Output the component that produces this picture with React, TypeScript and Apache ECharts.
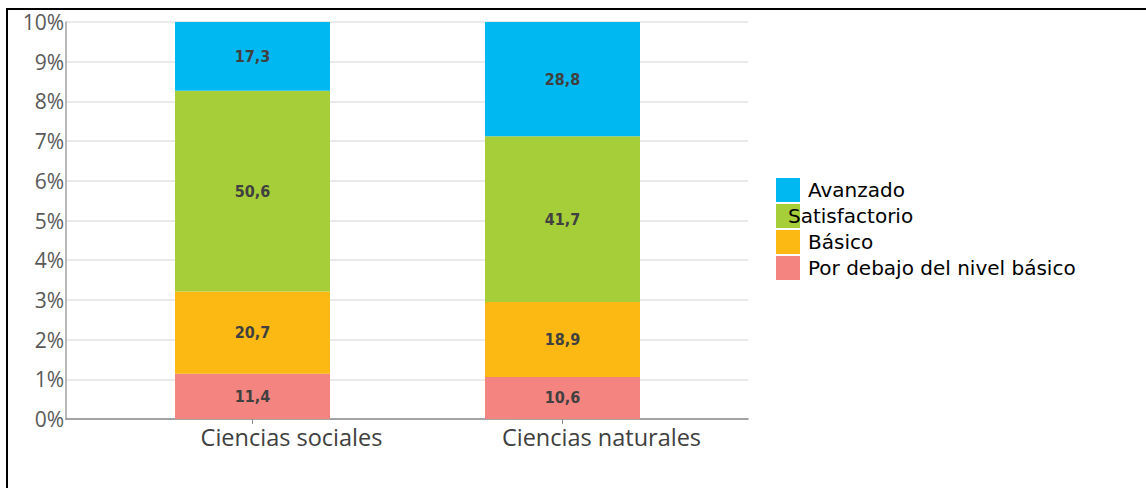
import React, { useEffect, useRef } from "react";
import * as echarts from "echarts";

const categories = ["Ciencias sociales", "Ciencias naturales"];
const porDebajo = [11.4, 10.6];
const basico = [20.7, 18.9];
const satisfactorio = [50.6, 41.7];
const avanzado = [17.3, 28.8];
const yTicks = [0, 10, 20, 30, 40, 50, 60, 70, 80, 90, 100];
const legendNames = ["Avanzado", "Satisfactorio", "Básico", "Por debajo del nivel básico"];

const COLORS: Record<string, string> = {
  "Avanzado": "#00B8F1",
  "Satisfactorio": "#A6CE39",
  "Básico": "#FDB913",
  "Por debajo del nivel básico": "#F4847F",
};

export default function App() {
  const ref = useRef<HTMLDivElement>(null);
  useEffect(() => {
    if (!ref.current) return;
    const chart = echarts.init(ref.current, null, { renderer: "svg" });
    const labelStyle = {
      show: true,
      position: "inside" as const,
      fontFamily: "DejaVu Sans Condensed, DejaVu Sans",
      fontWeight: "bold" as const,
      fontSize: 16,
      color: "#404040",
      formatter: (p: any) => String(p.value).replace(".", ","),
    };
    const mk = (name: string, data: number[]) => ({
      name,
      type: "bar",
      stack: "total",
      xAxisIndex: 1,
      yAxisIndex: 1,
      barWidth: "50%",
      data,
      itemStyle: { color: COLORS[name] },
      label: labelStyle,
    });
    chart.setOption({
      animation: false,
      grid: [
        { left: 66, top: 22, width: 682, height: 397 },
        { left: 97.5, top: 22, width: 620, height: 397 },
      ],
      xAxis: [
        {
          gridIndex: 0,
          type: "value",
          min: 0,
          max: 1,
          axisLine: { show: true, onZero: false, lineStyle: { color: "#8c8c8c", width: 1.5 } },
          axisTick: { show: false },
          axisLabel: { show: false },
          splitLine: { show: false },
        },
        {
          gridIndex: 1,
          type: "category",
          data: categories,
          axisLine: { show: false },
          axisTick: { show: true, alignWithLabel: true, length: 5, lineStyle: { color: "#8c8c8c" } },
          axisLabel: {
            margin: 6,
            fontSize: 23.5,
            color: "#404040",
            fontFamily: "Open Sans",
            padding: [0, 0, 0, 78],
          },
        },
      ],
      yAxis: [
        {
          gridIndex: 0,
          type: "value",
          min: 0,
          max: 100,
          interval: 10,
          axisLine: { show: true, lineStyle: { color: "#a0a0a0", width: 1.5 } },
          axisTick: { show: false },
          axisLabel: {
            margin: 2,
            fontSize: 21,
            color: "#595959",
            fontFamily: "Open Sans",
            formatter: (v: number) => (yTicks.includes(v) ? `${v / 10}%` : ""),
          },
          splitLine: { show: true, lineStyle: { color: "#e3e3e3", width: 1.5 } },
        },
        {
          gridIndex: 1,
          type: "value",
          min: 0,
          max: 100,
          show: false,
        },
      ],
      legend: {
        orient: "vertical",
        left: 776,
        top: 178,
        itemWidth: 24,
        itemHeight: 24,
        itemGap: 2,
        icon: "rect",
        padding: 0,
        data: legendNames.map((n) => ({
          name: n,
          itemStyle: { color: COLORS[n] },
          textStyle: n === "Satisfactorio" ? { padding: [4, 0, 0, -17] } : { padding: [8, 0, 0, 3] },
        })),
        textStyle: { fontSize: 20, lineHeight: 16, color: "#000", fontFamily: "DejaVu Sans" },
      },
      series: [
        mk("Por debajo del nivel básico", porDebajo),
        mk("Básico", basico),
        mk("Satisfactorio", satisfactorio),
        mk("Avanzado", avanzado),
      ],
    });
    return () => chart.dispose();
  }, []);
  return (
    <>
      <div
        style={{
          position: "fixed",
          left: 6,
          top: 8,
          width: 2000,
          height: 1000,
          borderTop: "2px solid #000",
          borderLeft: "2px solid #000",
          background: "#fff",
        }}
      />
      <div
        ref={ref}
        style={{ position: "fixed", left: 0, top: 0, width: 1146, height: 488 }}
      />
    </>
  );
}
